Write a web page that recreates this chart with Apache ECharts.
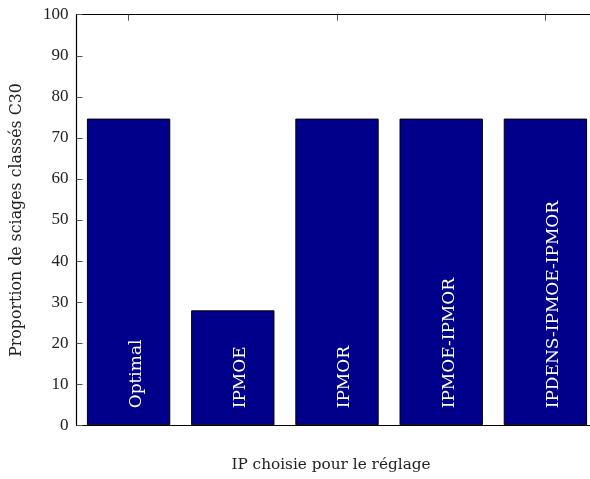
<!DOCTYPE html>
<html>
<head>
<meta charset="utf-8">
<script src="https://cdn.jsdelivr.net/npm/echarts@6/dist/echarts.min.js"></script>
<style>html,body{margin:0;padding:0;background:#fff;}#c{width:590px;height:479px;}</style>
</head>
<body>
<div id="c"></div>
<script>
const categories = ['Optimal', 'IPMOE', 'IPMOR', 'IPMOE-IPMOR', 'IPDENS-IPMOE-IPMOR'];
const values = [74.7, 28, 74.7, 74.7, 74.7];
const yTicks = [0, 10, 20, 30, 40, 50, 60, 70, 80, 90, 100];

const FONT = '"Liberation Serif", serif';
const FONT2 = '"DejaVu Serif", serif';
const chart = echarts.init(document.getElementById('c'), null, {renderer: 'canvas'});
chart.setOption({
  animation: false,
  grid: {left: 76.5, width: 521, top: 14.7, height: 410.6, containLabel: false, outerBoundsMode: 'none'},
  xAxis: [{
    type: 'category', data: categories, position: 'bottom',
    axisLine: {lineStyle: {color: '#000', width: 1.2}},
    axisTick: {show: false}, axisLabel: {show: false},
    name: 'IP choisie pour le réglage', nameLocation: 'middle', nameGap: 32,
    nameTextStyle: {fontFamily: FONT2, fontSize: 15.3, color: '#222', padding: [0, 12, 0, 0]}
  }, {
    type: 'category', data: categories, position: 'top',
    axisLine: {lineStyle: {color: '#000', width: 1.2}},
    axisTick: {show: true, inside: true, alignWithLabel: true, length: 6, lineStyle: {color: '#555'}},
    axisLabel: {show: false}
  }],
  yAxis: {
    type: 'value', min: 0, max: 100, interval: 10,
    axisLine: {show: true, lineStyle: {color: '#000', width: 1.2}},
    axisTick: {show: true, inside: true, length: 6, lineStyle: {color: '#555'}},
    splitLine: {show: false},
    axisLabel: {fontFamily: FONT, fontSize: 17, color: '#222', margin: 8,
      formatter: v => yTicks.includes(v) ? String(v) : ''},
    name: 'Proportion de sciages classés C30', nameLocation: 'middle', nameGap: 52,
    nameTextStyle: {fontFamily: FONT2, fontSize: 15.8, color: '#222'}
  },
  series: [{
    type: 'bar', data: values, barWidth: '80%', xAxisIndex: 0,
    itemStyle: {color: '#00008b', borderColor: '#000', borderWidth: 1},
    label: {
      show: true, position: 'insideBottom', rotate: 90, align: 'left', verticalAlign: 'middle',
      distance: 17, offset: [0, 8],
      formatter: p => categories[p.dataIndex],
      color: '#fff', fontFamily: FONT2, fontSize: 17
    }
  }]
});
</script>
</body>
</html>
